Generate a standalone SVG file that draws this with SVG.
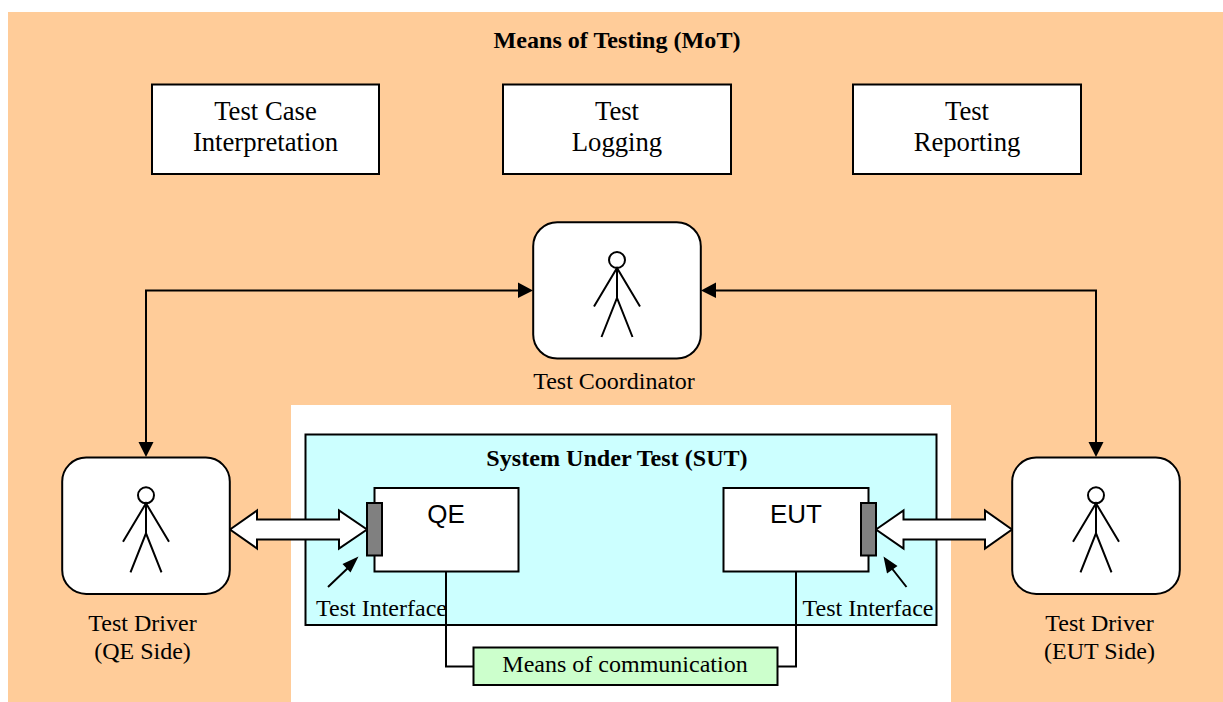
<svg xmlns="http://www.w3.org/2000/svg" width="1223" height="702" viewBox="0 0 1223 702">
<style>
.box{fill:#fff;stroke:#000;stroke-width:2}
.t{font-family:"Liberation Serif",serif;font-size:26.700px;fill:#000;text-anchor:middle}
.b{font-size:24.100px;font-weight:bold}
.s{font-family:"Liberation Sans",sans-serif;font-size:26px;fill:#000;text-anchor:middle}
.m{font-size:24px}
.c{fill:none;stroke:#000;stroke-width:2}
.d{fill:#fff;stroke:#000;stroke-width:2;stroke-linejoin:miter}
.a{fill:#000}
</style>
<defs>
<g id="actor">
<rect class="box" x="-83.800" y="-37.700" width="167.600" height="136.300" rx="24"/>
<circle class="c" cx="0" cy="0" r="8" style="fill:#fff"/>
<path class="c" d="M0 8V38M-23 46.500L0 8L23 46.500M-15.500 77L0 38L15.500 77"/>
</g>
</defs>
<rect x="8" y="12" width="1215" height="690" fill="#FFCC99"/>
<rect x="291" y="405" width="660" height="297" fill="#fff"/>
<text class="t b" x="617" y="47.500">Means of Testing (MoT)</text>
<g id="test-case"><rect class="box" x="152" y="84.500" width="227" height="89.500"/><text class="t" x="265.500" y="119.500">Test Case</text><text class="t" x="265.500" y="150.500">Interpretation</text></g>
<g id="test-logging"><rect class="box" x="503" y="84.500" width="228" height="89.500"/><text class="t" x="617" y="119.500">Test</text><text class="t" x="617" y="150.500">Logging</text></g>
<g id="test-reporting"><rect class="box" x="853" y="84.500" width="228" height="89.500"/><text class="t" x="967" y="119.500">Test</text><text class="t" x="967" y="150.500">Reporting</text></g>
<g id="sut"><rect x="305.500" y="434.500" width="631" height="190.500" fill="#CCFFFF" stroke="#000" stroke-width="2"/><text class="t b" x="617" y="465.500">System Under Test (SUT)</text></g>
<g id="qe"><rect class="box" x="374.500" y="488" width="144" height="83.500"/><text class="s" x="446" y="522.500">QE</text></g>
<g id="eut"><rect class="box" x="723.500" y="488" width="145" height="83.500"/><text class="s" x="796" y="522.500">EUT</text></g>
<g id="connectors">
<path class="c" d="M146 444V290.500H519M1096 444V290.500H715"/>
<path class="a" d="M138.500 442H153.500L146 457ZM1088.500 442H1103.500L1096 457ZM518 282.500V298L533 290.500ZM716 282.500V298L701 290.500Z"/>
<path class="d" d="M230 529.500L257 510.500V519.500H339V510.500L367 529.500L339 548.500V539.500H257V548.500Z"/>
<path class="d" d="M876 529.500L903.500 510.500V519.500H985V510.500L1012 529.500L985 548.500V539.500H903.500V548.500Z"/>
<path class="c" d="M328 587L350 566M906.500 587L890 566"/>
<path class="a" d="M342.500 564L358.500 556.500L350.500 572.500ZM883.500 556.500L897.500 566L887 573.500Z"/>
<path class="c" d="M446 571.500V666.500H473M796 571.500V666.500H777"/>
</g>
<g id="qe-port"><rect x="367" y="503" width="15" height="52.500" fill="#808080" stroke="#000" stroke-width="2"/></g>
<g id="eut-port"><rect x="861" y="503" width="15" height="52.500" fill="#808080" stroke="#000" stroke-width="2"/></g>
<g id="coordinator"><use href="#actor" x="617" y="260"/><text class="t m" x="614" y="388.500">Test Coordinator</text></g>
<g id="driver-qe"><use href="#actor" x="146" y="495.300"/><text class="t m" x="142.500" y="630.500">Test Driver</text><text class="t m" x="142.500" y="658.500">(QE Side)</text></g>
<g id="driver-eut"><use href="#actor" x="1096" y="495.300"/><text class="t m" x="1099.500" y="630.500">Test Driver</text><text class="t m" x="1099.500" y="658.500">(EUT Side)</text></g>
<g id="means"><rect x="473.500" y="647.500" width="304" height="37.500" fill="#CCFFCC" stroke="#000" stroke-width="2"/><text class="t m" x="625" y="671.500">Means of communication</text></g>
<text class="t m" x="381.500" y="615.500">Test Interface</text>
<text class="t m" x="868" y="615.500">Test Interface</text>
</svg>
